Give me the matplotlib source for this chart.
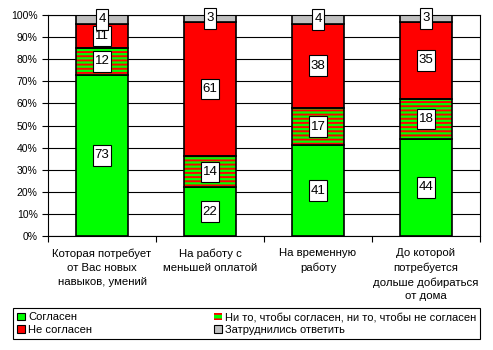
import numpy as np
import matplotlib
matplotlib.use("Agg")
import matplotlib.pyplot as plt
from matplotlib.patches import Patch
from matplotlib.path import Path

plt.rcParams['font.family'] = ['Liberation Sans', 'DejaVu Sans']
plt.rcParams['hatch.linewidth'] = 1.4

# Survey answers, % of respondents
categories = ["Которая потребует\nот Вас новых\nнавыков, умений",
              "На работу с\nменьшей оплатой",
              "На временную\nработу",
              "До которой\nпотребуется\nдольше добираться\nот дома"]
agree = [73, 22, 41, 44]
neutral = [12, 14, 17, 18]
disagree = [11, 61, 38, 35]
no_answer = [4, 3, 4, 3]

series_names = ["Согласен", "Ни то, чтобы согласен, ни то, чтобы не согласен",
                "Не согласен", "Затруднились ответить"]

GREEN = "#00ff00"
RED = "#ff0000"
GRAY = "#c0c0c0"


def tall_box(x0, y0, width, height, mutation_size):
    # label box: narrow side padding, tall top/bottom padding
    px = 0.15 * mutation_size
    py = 0.33 * mutation_size
    xa, ya = x0 - px, y0 - py
    xb, yb = x0 + width + px, y0 + height + py
    return Path([(xa, ya), (xb, ya), (xb, yb), (xa, yb), (xa, ya)], closed=True)


fig = plt.figure(figsize=(4.93, 3.5), dpi=100)
ax = fig.add_axes([48 / 493, 1 - 236 / 350, 432 / 493, 221 / 350])

x = np.arange(len(categories))
w = 0.49
bottom = np.zeros(len(categories))

layers = [(agree, GREEN, None), (neutral, GREEN, "----"),
          (disagree, RED, None), (no_answer, GRAY, None)]
for vals, color, hatch in layers:
    vals = np.array(vals)
    if hatch:
        ax.bar(x, vals, w, bottom=bottom, color=GREEN, edgecolor=RED,
               hatch=hatch, linewidth=0, zorder=2)
        ax.bar(x, vals, w, bottom=bottom, facecolor="none",
               edgecolor="black", linewidth=1.2, zorder=3)
    else:
        ax.bar(x, vals, w, bottom=bottom, color=color,
               edgecolor="black", linewidth=1.2, zorder=2)
    for xi, b, v in zip(x, bottom, vals):
        ax.text(xi, b + v / 2, str(v), ha="center", va="center", fontsize=9.5,
                zorder=5, clip_on=False,
                bbox=dict(boxstyle=tall_box, facecolor="white",
                          edgecolor="black", linewidth=0.8))
    bottom += vals

ax.set_xlim(-0.5, len(categories) - 0.5)
ax.set_ylim(0, 100)
ax.set_yticks(np.arange(0, 101, 10))
ax.set_yticklabels([f"{v}%" for v in range(0, 101, 10)], fontsize=7.5)
ax.yaxis.grid(True, color="black", linewidth=0.8)
ax.set_axisbelow(True)

ax.set_xticks(np.arange(-0.5, len(categories), 1.0))
ax.set_xticklabels([])
ax.set_xticks(x, minor=True)
ax.set_xticklabels(categories, minor=True, fontsize=8.2, linespacing=1.48)
ax.tick_params(axis="x", which="minor", length=0, pad=9)
ax.tick_params(axis="both", which="major", direction="out", length=4,
               width=0.8, color="black")
for s in ax.spines.values():
    s.set_linewidth(0.8)

handles = [Patch(facecolor=GREEN, edgecolor="black", linewidth=0.8),
           Patch(facecolor=RED, edgecolor="black", linewidth=0.8),
           Patch(facecolor=GREEN, edgecolor=RED, hatch="---", linewidth=0),
           Patch(facecolor=GRAY, edgecolor="black", linewidth=0.8)]
labels = [series_names[0], series_names[2], series_names[1], series_names[3]]
leg = fig.legend(handles, labels, loc="lower left", ncol=2, mode="expand",
                 bbox_to_anchor=(13 / 493, 11 / 350, 467 / 493, 32 / 350),
                 fontsize=8.0, handlelength=0.7, handleheight=0.7,
                 handletextpad=0.3, borderaxespad=0, borderpad=0.35,
                 labelspacing=0.25, fancybox=False, framealpha=1)
leg.get_frame().set_edgecolor("black")
leg.get_frame().set_linewidth(0.8)

fig.savefig("out.png", dpi=100)
